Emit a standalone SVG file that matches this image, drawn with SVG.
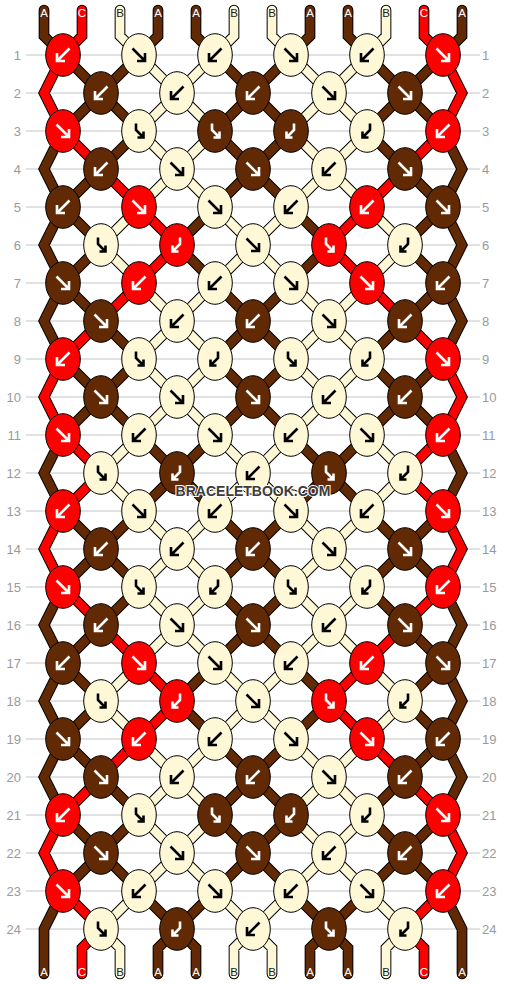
<svg xmlns="http://www.w3.org/2000/svg" width="506" height="984" viewBox="0 0 506 984">
<style>
.grid line{stroke:#c4c4c4;stroke-width:1}
.rl{font-family:"Liberation Sans",Arial,sans-serif;font-size:13px;fill:#9a9a9a}
.rl.l{text-anchor:end}
.o{fill:none;stroke:#000;stroke-width:10.7;stroke-linecap:round;stroke-linejoin:miter}
.sA,.sB,.sC{fill:none;stroke-width:8.7;stroke-linecap:round;stroke-linejoin:miter}
.sA{stroke:#612a05}.sB{stroke:#fff8d6}.sC{stroke:#ff0000}
.kA{fill:#612a05}.kB{fill:#fff8d6}.kC{fill:#ff0000}
ellipse{stroke:#000;stroke-width:1}
.w{stroke:#fff}.k{stroke:#000}
.lbl{font-family:"Liberation Sans",Arial,sans-serif;font-size:11.5px;text-anchor:middle}
.lw{fill:#fff}.lk{fill:#222}
.wm{font-family:"Liberation Sans",Arial,sans-serif;font-size:14px;font-weight:bold;text-anchor:middle;fill:#3c3c3c;stroke:#fff;stroke-width:2;paint-order:stroke}
</style>
<defs>
<path id="af" d="M-6.5-6.5L5.5 5.5M6-2V6H-2" fill="none" stroke-width="2.6"/>
<path id="ab" d="M6.5-6.5L-5.5 5.5M-6-2V6H2" fill="none" stroke-width="2.6"/>
<path id="abf" d="M-3-7.5V-1L4.5 6.5M4.5 0.5V6.5H-1.5" fill="none" stroke-width="2.6"/>
<path id="afb" d="M3-7.5V-1L-4.5 6.5M-4.5 0.5V6.5H1.5" fill="none" stroke-width="2.6"/>
<path id="pA" d="M44 10L44 36L63 55M158 10L158 36L139 55M196 10L196 36L215 55M310 10L310 36L291 55M348 10L348 36L367 55M462 10L462 36L443 55
M63 55l38 38M139 55l-38 38M215 55l38 38M291 55l-38 38M367 55l38 38M443 55l-38 38
M101 93l-38 38M101 93l38 38M253 93l-38 38M253 93l38 38M405 93l-38 38M405 93l38 38
M139 131l-38 38M215 131l38 38M291 131l-38 38M367 131l38 38
M101 169l-38 38M253 169l-38 38M253 169l38 38M405 169l38 38
M63 207l38 38M215 207l-38 38M291 207l38 38M443 207l-38 38
M101 245l-38 38M177 245l38 38M329 245l-38 38M405 245l38 38
M63 283l38 38M215 283l38 38M291 283l-38 38M443 283l-38 38
M101 321l38 38M253 321l-38 38M253 321l38 38M405 321l-38 38
M63 359l38 38M139 359l-38 38M215 359l38 38M291 359l-38 38M367 359l38 38M443 359l-38 38
M101 397l-38 38M101 397l38 38M253 397l-38 38M253 397l38 38M405 397l-38 38M405 397l38 38
M139 435l38 38M215 435l-38 38M291 435l38 38M367 435l-38 38
M177 473l-38 38M177 473l38 38M329 473l-38 38M329 473l38 38
M63 511l38 38M139 511l-38 38M215 511l38 38M291 511l-38 38M367 511l38 38M443 511l-38 38
M101 549l-38 38M101 549l38 38M253 549l-38 38M253 549l38 38M405 549l-38 38M405 549l38 38
M139 587l-38 38M215 587l38 38M291 587l-38 38M367 587l38 38
M101 625l-38 38M253 625l-38 38M253 625l38 38M405 625l38 38
M63 663l38 38M215 663l-38 38M291 663l38 38M443 663l-38 38
M101 701l-38 38M177 701l38 38M329 701l-38 38M405 701l38 38
M63 739l38 38M215 739l38 38M291 739l-38 38M443 739l-38 38
M101 777l38 38M253 777l-38 38M253 777l38 38M405 777l-38 38
M63 815l38 38M139 815l-38 38M215 815l38 38M291 815l-38 38M367 815l38 38M443 815l-38 38
M101 853l-38 38M101 853l38 38M253 853l-38 38M253 853l38 38M405 853l-38 38M405 853l38 38
M139 891l38 38M215 891l-38 38M291 891l38 38M367 891l-38 38
M63 131L44 169L63 207M443 131L462 169L443 207M63 207L44 245L63 283M443 207L462 245L443 283M63 283L44 321L63 359M443 283L462 321L443 359
M63 435L44 473L63 511M443 435L462 473L443 511M63 587L44 625L63 663M443 587L462 625L443 663M63 663L44 701L63 739M443 663L462 701L443 739
M63 739L44 777L63 815M443 739L462 777L443 815M63 891L44 929L44 974M443 891L462 929L462 974
M177 929L158 948L158 974M177 929L196 948L196 974M329 929L310 948L310 974M329 929L348 948L348 974"/>
<path id="pB" d="M120 10L120 36L139 55M234 10L234 36L215 55M272 10L272 36L291 55M386 10L386 36L367 55
M139 55l38 38M215 55l-38 38M291 55l38 38M367 55l-38 38
M177 93l-38 38M177 93l38 38M329 93l-38 38M329 93l38 38
M139 131l38 38M215 131l-38 38M291 131l38 38M367 131l-38 38
M177 169l-38 38M177 169l38 38M329 169l-38 38M329 169l38 38
M139 207l-38 38M215 207l38 38M291 207l-38 38M367 207l38 38
M101 245l38 38M253 245l-38 38M253 245l38 38M405 245l-38 38
M139 283l38 38M215 283l-38 38M291 283l38 38M367 283l-38 38
M177 321l-38 38M177 321l38 38M329 321l-38 38M329 321l38 38
M139 359l38 38M215 359l-38 38M291 359l38 38M367 359l-38 38
M177 397l-38 38M177 397l38 38M329 397l-38 38M329 397l38 38
M139 435l-38 38M215 435l38 38M291 435l-38 38M367 435l38 38
M101 473l38 38M253 473l-38 38M253 473l38 38M405 473l-38 38
M139 511l38 38M215 511l-38 38M291 511l38 38M367 511l-38 38
M177 549l-38 38M177 549l38 38M329 549l-38 38M329 549l38 38
M139 587l38 38M215 587l-38 38M291 587l38 38M367 587l-38 38
M177 625l-38 38M177 625l38 38M329 625l-38 38M329 625l38 38
M139 663l-38 38M215 663l38 38M291 663l-38 38M367 663l38 38
M101 701l38 38M253 701l-38 38M253 701l38 38M405 701l-38 38
M139 739l38 38M215 739l-38 38M291 739l38 38M367 739l-38 38
M177 777l-38 38M177 777l38 38M329 777l-38 38M329 777l38 38
M139 815l38 38M215 815l-38 38M291 815l38 38M367 815l-38 38
M177 853l-38 38M177 853l38 38M329 853l-38 38M329 853l38 38
M139 891l-38 38M215 891l38 38M291 891l-38 38M367 891l38 38
M101 929L120 948L120 974M253 929L234 948L234 974M253 929L272 948L272 974M405 929L386 948L386 974"/>
<path id="pC" d="M82 10L82 36L63 55M424 10L424 36L443 55
M63 55L44 93L63 131M443 55L462 93L443 131M63 359L44 397L63 435M443 359L462 397L443 435
M63 511L44 549L63 587M443 511L462 549L443 587M63 815L44 853L63 891M443 815L462 853L443 891
M63 131l38 38M443 131l-38 38
M101 169l38 38M405 169l-38 38
M139 207l38 38M367 207l-38 38
M177 245l-38 38M329 245l38 38
M139 283l-38 38M367 283l38 38
M101 321l-38 38M405 321l38 38
M63 435l38 38M443 435l-38 38
M101 473l-38 38M405 473l38 38
M63 587l38 38M443 587l-38 38
M101 625l38 38M405 625l-38 38
M139 663l38 38M367 663l-38 38
M177 701l-38 38M329 701l38 38
M139 739l-38 38M367 739l38 38
M101 777l-38 38M405 777l38 38
M63 891l38 38M443 891l-38 38
M101 929L82 948L82 974M405 929L424 948L424 974"/>
</defs>
<rect width="506" height="984" fill="#fff"/>
<g class="grid">
<line x1="26" y1="55" x2="480" y2="55"/><line x1="26" y1="93" x2="480" y2="93"/><line x1="26" y1="131" x2="480" y2="131"/><line x1="26" y1="169" x2="480" y2="169"/>
<line x1="26" y1="207" x2="480" y2="207"/><line x1="26" y1="245" x2="480" y2="245"/><line x1="26" y1="283" x2="480" y2="283"/><line x1="26" y1="321" x2="480" y2="321"/>
<line x1="26" y1="359" x2="480" y2="359"/><line x1="26" y1="397" x2="480" y2="397"/><line x1="26" y1="435" x2="480" y2="435"/><line x1="26" y1="473" x2="480" y2="473"/>
<line x1="26" y1="511" x2="480" y2="511"/><line x1="26" y1="549" x2="480" y2="549"/><line x1="26" y1="587" x2="480" y2="587"/><line x1="26" y1="625" x2="480" y2="625"/>
<line x1="26" y1="663" x2="480" y2="663"/><line x1="26" y1="701" x2="480" y2="701"/><line x1="26" y1="739" x2="480" y2="739"/><line x1="26" y1="777" x2="480" y2="777"/>
<line x1="26" y1="815" x2="480" y2="815"/><line x1="26" y1="853" x2="480" y2="853"/><line x1="26" y1="891" x2="480" y2="891"/><line x1="26" y1="929" x2="480" y2="929"/>
</g>
<g id="row-labels" class="rl">
<text class="rl l" x="21" y="59.5">1</text><text class="rl l" x="21" y="97.5">2</text><text class="rl l" x="21" y="135.5">3</text><text class="rl l" x="21" y="173.5">4</text>
<text class="rl l" x="21" y="211.5">5</text><text class="rl l" x="21" y="249.5">6</text><text class="rl l" x="21" y="287.5">7</text><text class="rl l" x="21" y="325.5">8</text>
<text class="rl l" x="21" y="363.5">9</text><text class="rl l" x="21" y="401.5">10</text><text class="rl l" x="21" y="439.5">11</text><text class="rl l" x="21" y="477.5">12</text>
<text class="rl l" x="21" y="515.5">13</text><text class="rl l" x="21" y="553.5">14</text><text class="rl l" x="21" y="591.5">15</text><text class="rl l" x="21" y="629.5">16</text>
<text class="rl l" x="21" y="667.5">17</text><text class="rl l" x="21" y="705.5">18</text><text class="rl l" x="21" y="743.5">19</text><text class="rl l" x="21" y="781.5">20</text>
<text class="rl l" x="21" y="819.5">21</text><text class="rl l" x="21" y="857.5">22</text><text class="rl l" x="21" y="895.5">23</text><text class="rl l" x="21" y="933.5">24</text>
<text x="482" y="59.5">1</text><text x="482" y="97.5">2</text><text x="482" y="135.5">3</text><text x="482" y="173.5">4</text>
<text x="482" y="211.5">5</text><text x="482" y="249.5">6</text><text x="482" y="287.5">7</text><text x="482" y="325.5">8</text>
<text x="482" y="363.5">9</text><text x="482" y="401.5">10</text><text x="482" y="439.5">11</text><text x="482" y="477.5">12</text>
<text x="482" y="515.5">13</text><text x="482" y="553.5">14</text><text x="482" y="591.5">15</text><text x="482" y="629.5">16</text>
<text x="482" y="667.5">17</text><text x="482" y="705.5">18</text><text x="482" y="743.5">19</text><text x="482" y="781.5">20</text>
<text x="482" y="819.5">21</text><text x="482" y="857.5">22</text><text x="482" y="895.5">23</text><text x="482" y="933.5">24</text>
</g>
<g id="connectors">
<use href="#pA" class="o"/><use href="#pB" class="o"/><use href="#pC" class="o"/>
<use href="#pA" class="sA"/><use href="#pB" class="sB"/><use href="#pC" class="sC"/>
</g>
<g id="string-labels" class="lbl">
<text class="lbl lw" x="44" y="16.7">A</text><text class="lbl lw" x="82" y="16.7">C</text><text class="lbl lk" x="120" y="16.7">B</text><text class="lbl lw" x="158" y="16.7">A</text>
<text class="lbl lw" x="196" y="16.7">A</text><text class="lbl lk" x="234" y="16.7">B</text><text class="lbl lk" x="272" y="16.7">B</text><text class="lbl lw" x="310" y="16.7">A</text>
<text class="lbl lw" x="348" y="16.7">A</text><text class="lbl lk" x="386" y="16.7">B</text><text class="lbl lw" x="424" y="16.7">C</text><text class="lbl lw" x="462" y="16.7">A</text>
<text class="lbl lw" x="44" y="976">A</text><text class="lbl lw" x="82" y="976">C</text><text class="lbl lk" x="120" y="976">B</text><text class="lbl lw" x="158" y="976">A</text>
<text class="lbl lw" x="196" y="976">A</text><text class="lbl lk" x="234" y="976">B</text><text class="lbl lk" x="272" y="976">B</text><text class="lbl lw" x="310" y="976">A</text>
<text class="lbl lw" x="348" y="976">A</text><text class="lbl lk" x="386" y="976">B</text><text class="lbl lw" x="424" y="976">C</text><text class="lbl lw" x="462" y="976">A</text>
</g>
<g id="knots">
<g id="k1-1"><ellipse class="kC" cx="63" cy="55" rx="17.3" ry="21.3"/><use href="#ab" x="63" y="55" class="w"/></g>
<g id="k1-2"><ellipse class="kB" cx="139" cy="55" rx="17.3" ry="21.3"/><use href="#af" x="139" y="55" class="k"/></g>
<g id="k1-3"><ellipse class="kB" cx="215" cy="55" rx="17.3" ry="21.3"/><use href="#ab" x="215" y="55" class="k"/></g>
<g id="k1-4"><ellipse class="kB" cx="291" cy="55" rx="17.3" ry="21.3"/><use href="#af" x="291" y="55" class="k"/></g>
<g id="k1-5"><ellipse class="kB" cx="367" cy="55" rx="17.3" ry="21.3"/><use href="#ab" x="367" y="55" class="k"/></g>
<g id="k1-6"><ellipse class="kC" cx="443" cy="55" rx="17.3" ry="21.3"/><use href="#af" x="443" y="55" class="w"/></g>
<g id="k2-1"><ellipse class="kA" cx="101" cy="93" rx="17.3" ry="21.3"/><use href="#ab" x="101" y="93" class="w"/></g>
<g id="k2-2"><ellipse class="kB" cx="177" cy="93" rx="17.3" ry="21.3"/><use href="#ab" x="177" y="93" class="k"/></g>
<g id="k2-3"><ellipse class="kA" cx="253" cy="93" rx="17.3" ry="21.3"/><use href="#ab" x="253" y="93" class="w"/></g>
<g id="k2-4"><ellipse class="kB" cx="329" cy="93" rx="17.3" ry="21.3"/><use href="#af" x="329" y="93" class="k"/></g>
<g id="k2-5"><ellipse class="kA" cx="405" cy="93" rx="17.3" ry="21.3"/><use href="#af" x="405" y="93" class="w"/></g>
<g id="k3-1"><ellipse class="kC" cx="63" cy="131" rx="17.3" ry="21.3"/><use href="#af" x="63" y="131" class="w"/></g>
<g id="k3-2"><ellipse class="kB" cx="139" cy="131" rx="17.3" ry="21.3"/><use href="#abf" x="139" y="131" class="k"/></g>
<g id="k3-3"><ellipse class="kA" cx="215" cy="131" rx="17.3" ry="21.3"/><use href="#abf" x="215" y="131" class="w"/></g>
<g id="k3-4"><ellipse class="kA" cx="291" cy="131" rx="17.3" ry="21.3"/><use href="#afb" x="291" y="131" class="w"/></g>
<g id="k3-5"><ellipse class="kB" cx="367" cy="131" rx="17.3" ry="21.3"/><use href="#afb" x="367" y="131" class="k"/></g>
<g id="k3-6"><ellipse class="kC" cx="443" cy="131" rx="17.3" ry="21.3"/><use href="#ab" x="443" y="131" class="w"/></g>
<g id="k4-1"><ellipse class="kA" cx="101" cy="169" rx="17.3" ry="21.3"/><use href="#ab" x="101" y="169" class="w"/></g>
<g id="k4-2"><ellipse class="kB" cx="177" cy="169" rx="17.3" ry="21.3"/><use href="#af" x="177" y="169" class="k"/></g>
<g id="k4-3"><ellipse class="kA" cx="253" cy="169" rx="17.3" ry="21.3"/><use href="#af" x="253" y="169" class="w"/></g>
<g id="k4-4"><ellipse class="kB" cx="329" cy="169" rx="17.3" ry="21.3"/><use href="#ab" x="329" y="169" class="k"/></g>
<g id="k4-5"><ellipse class="kA" cx="405" cy="169" rx="17.3" ry="21.3"/><use href="#af" x="405" y="169" class="w"/></g>
<g id="k5-1"><ellipse class="kA" cx="63" cy="207" rx="17.3" ry="21.3"/><use href="#ab" x="63" y="207" class="w"/></g>
<g id="k5-2"><ellipse class="kC" cx="139" cy="207" rx="17.3" ry="21.3"/><use href="#af" x="139" y="207" class="w"/></g>
<g id="k5-3"><ellipse class="kB" cx="215" cy="207" rx="17.3" ry="21.3"/><use href="#af" x="215" y="207" class="k"/></g>
<g id="k5-4"><ellipse class="kB" cx="291" cy="207" rx="17.3" ry="21.3"/><use href="#ab" x="291" y="207" class="k"/></g>
<g id="k5-5"><ellipse class="kC" cx="367" cy="207" rx="17.3" ry="21.3"/><use href="#ab" x="367" y="207" class="w"/></g>
<g id="k5-6"><ellipse class="kA" cx="443" cy="207" rx="17.3" ry="21.3"/><use href="#af" x="443" y="207" class="w"/></g>
<g id="k6-1"><ellipse class="kB" cx="101" cy="245" rx="17.3" ry="21.3"/><use href="#abf" x="101" y="245" class="k"/></g>
<g id="k6-2"><ellipse class="kC" cx="177" cy="245" rx="17.3" ry="21.3"/><use href="#afb" x="177" y="245" class="w"/></g>
<g id="k6-3"><ellipse class="kB" cx="253" cy="245" rx="17.3" ry="21.3"/><use href="#af" x="253" y="245" class="k"/></g>
<g id="k6-4"><ellipse class="kC" cx="329" cy="245" rx="17.3" ry="21.3"/><use href="#abf" x="329" y="245" class="w"/></g>
<g id="k6-5"><ellipse class="kB" cx="405" cy="245" rx="17.3" ry="21.3"/><use href="#afb" x="405" y="245" class="k"/></g>
<g id="k7-1"><ellipse class="kA" cx="63" cy="283" rx="17.3" ry="21.3"/><use href="#af" x="63" y="283" class="w"/></g>
<g id="k7-2"><ellipse class="kC" cx="139" cy="283" rx="17.3" ry="21.3"/><use href="#ab" x="139" y="283" class="w"/></g>
<g id="k7-3"><ellipse class="kB" cx="215" cy="283" rx="17.3" ry="21.3"/><use href="#ab" x="215" y="283" class="k"/></g>
<g id="k7-4"><ellipse class="kB" cx="291" cy="283" rx="17.3" ry="21.3"/><use href="#af" x="291" y="283" class="k"/></g>
<g id="k7-5"><ellipse class="kC" cx="367" cy="283" rx="17.3" ry="21.3"/><use href="#af" x="367" y="283" class="w"/></g>
<g id="k7-6"><ellipse class="kA" cx="443" cy="283" rx="17.3" ry="21.3"/><use href="#ab" x="443" y="283" class="w"/></g>
<g id="k8-1"><ellipse class="kA" cx="101" cy="321" rx="17.3" ry="21.3"/><use href="#af" x="101" y="321" class="w"/></g>
<g id="k8-2"><ellipse class="kB" cx="177" cy="321" rx="17.3" ry="21.3"/><use href="#ab" x="177" y="321" class="k"/></g>
<g id="k8-3"><ellipse class="kA" cx="253" cy="321" rx="17.3" ry="21.3"/><use href="#ab" x="253" y="321" class="w"/></g>
<g id="k8-4"><ellipse class="kB" cx="329" cy="321" rx="17.3" ry="21.3"/><use href="#af" x="329" y="321" class="k"/></g>
<g id="k8-5"><ellipse class="kA" cx="405" cy="321" rx="17.3" ry="21.3"/><use href="#ab" x="405" y="321" class="w"/></g>
<g id="k9-1"><ellipse class="kC" cx="63" cy="359" rx="17.3" ry="21.3"/><use href="#ab" x="63" y="359" class="w"/></g>
<g id="k9-2"><ellipse class="kB" cx="139" cy="359" rx="17.3" ry="21.3"/><use href="#abf" x="139" y="359" class="k"/></g>
<g id="k9-3"><ellipse class="kB" cx="215" cy="359" rx="17.3" ry="21.3"/><use href="#afb" x="215" y="359" class="k"/></g>
<g id="k9-4"><ellipse class="kB" cx="291" cy="359" rx="17.3" ry="21.3"/><use href="#abf" x="291" y="359" class="k"/></g>
<g id="k9-5"><ellipse class="kB" cx="367" cy="359" rx="17.3" ry="21.3"/><use href="#afb" x="367" y="359" class="k"/></g>
<g id="k9-6"><ellipse class="kC" cx="443" cy="359" rx="17.3" ry="21.3"/><use href="#af" x="443" y="359" class="w"/></g>
<g id="k10-1"><ellipse class="kA" cx="101" cy="397" rx="17.3" ry="21.3"/><use href="#af" x="101" y="397" class="w"/></g>
<g id="k10-2"><ellipse class="kB" cx="177" cy="397" rx="17.3" ry="21.3"/><use href="#af" x="177" y="397" class="k"/></g>
<g id="k10-3"><ellipse class="kA" cx="253" cy="397" rx="17.3" ry="21.3"/><use href="#af" x="253" y="397" class="w"/></g>
<g id="k10-4"><ellipse class="kB" cx="329" cy="397" rx="17.3" ry="21.3"/><use href="#ab" x="329" y="397" class="k"/></g>
<g id="k10-5"><ellipse class="kA" cx="405" cy="397" rx="17.3" ry="21.3"/><use href="#ab" x="405" y="397" class="w"/></g>
<g id="k11-1"><ellipse class="kC" cx="63" cy="435" rx="17.3" ry="21.3"/><use href="#af" x="63" y="435" class="w"/></g>
<g id="k11-2"><ellipse class="kB" cx="139" cy="435" rx="17.3" ry="21.3"/><use href="#ab" x="139" y="435" class="k"/></g>
<g id="k11-3"><ellipse class="kB" cx="215" cy="435" rx="17.3" ry="21.3"/><use href="#af" x="215" y="435" class="k"/></g>
<g id="k11-4"><ellipse class="kB" cx="291" cy="435" rx="17.3" ry="21.3"/><use href="#ab" x="291" y="435" class="k"/></g>
<g id="k11-5"><ellipse class="kB" cx="367" cy="435" rx="17.3" ry="21.3"/><use href="#af" x="367" y="435" class="k"/></g>
<g id="k11-6"><ellipse class="kC" cx="443" cy="435" rx="17.3" ry="21.3"/><use href="#ab" x="443" y="435" class="w"/></g>
<g id="k12-1"><ellipse class="kB" cx="101" cy="473" rx="17.3" ry="21.3"/><use href="#abf" x="101" y="473" class="k"/></g>
<g id="k12-2"><ellipse class="kA" cx="177" cy="473" rx="17.3" ry="21.3"/><use href="#afb" x="177" y="473" class="w"/></g>
<g id="k12-3"><ellipse class="kB" cx="253" cy="473" rx="17.3" ry="21.3"/><use href="#ab" x="253" y="473" class="k"/></g>
<g id="k12-4"><ellipse class="kA" cx="329" cy="473" rx="17.3" ry="21.3"/><use href="#abf" x="329" y="473" class="w"/></g>
<g id="k12-5"><ellipse class="kB" cx="405" cy="473" rx="17.3" ry="21.3"/><use href="#afb" x="405" y="473" class="k"/></g>
<g id="k13-1"><ellipse class="kC" cx="63" cy="511" rx="17.3" ry="21.3"/><use href="#ab" x="63" y="511" class="w"/></g>
<g id="k13-2"><ellipse class="kB" cx="139" cy="511" rx="17.3" ry="21.3"/><use href="#af" x="139" y="511" class="k"/></g>
<g id="k13-3"><ellipse class="kB" cx="215" cy="511" rx="17.3" ry="21.3"/><use href="#ab" x="215" y="511" class="k"/></g>
<g id="k13-4"><ellipse class="kB" cx="291" cy="511" rx="17.3" ry="21.3"/><use href="#af" x="291" y="511" class="k"/></g>
<g id="k13-5"><ellipse class="kB" cx="367" cy="511" rx="17.3" ry="21.3"/><use href="#ab" x="367" y="511" class="k"/></g>
<g id="k13-6"><ellipse class="kC" cx="443" cy="511" rx="17.3" ry="21.3"/><use href="#af" x="443" y="511" class="w"/></g>
<g id="k14-1"><ellipse class="kA" cx="101" cy="549" rx="17.3" ry="21.3"/><use href="#ab" x="101" y="549" class="w"/></g>
<g id="k14-2"><ellipse class="kB" cx="177" cy="549" rx="17.3" ry="21.3"/><use href="#ab" x="177" y="549" class="k"/></g>
<g id="k14-3"><ellipse class="kA" cx="253" cy="549" rx="17.3" ry="21.3"/><use href="#ab" x="253" y="549" class="w"/></g>
<g id="k14-4"><ellipse class="kB" cx="329" cy="549" rx="17.3" ry="21.3"/><use href="#af" x="329" y="549" class="k"/></g>
<g id="k14-5"><ellipse class="kA" cx="405" cy="549" rx="17.3" ry="21.3"/><use href="#af" x="405" y="549" class="w"/></g>
<g id="k15-1"><ellipse class="kC" cx="63" cy="587" rx="17.3" ry="21.3"/><use href="#af" x="63" y="587" class="w"/></g>
<g id="k15-2"><ellipse class="kB" cx="139" cy="587" rx="17.3" ry="21.3"/><use href="#abf" x="139" y="587" class="k"/></g>
<g id="k15-3"><ellipse class="kB" cx="215" cy="587" rx="17.3" ry="21.3"/><use href="#afb" x="215" y="587" class="k"/></g>
<g id="k15-4"><ellipse class="kB" cx="291" cy="587" rx="17.3" ry="21.3"/><use href="#abf" x="291" y="587" class="k"/></g>
<g id="k15-5"><ellipse class="kB" cx="367" cy="587" rx="17.3" ry="21.3"/><use href="#afb" x="367" y="587" class="k"/></g>
<g id="k15-6"><ellipse class="kC" cx="443" cy="587" rx="17.3" ry="21.3"/><use href="#ab" x="443" y="587" class="w"/></g>
<g id="k16-1"><ellipse class="kA" cx="101" cy="625" rx="17.3" ry="21.3"/><use href="#ab" x="101" y="625" class="w"/></g>
<g id="k16-2"><ellipse class="kB" cx="177" cy="625" rx="17.3" ry="21.3"/><use href="#af" x="177" y="625" class="k"/></g>
<g id="k16-3"><ellipse class="kA" cx="253" cy="625" rx="17.3" ry="21.3"/><use href="#af" x="253" y="625" class="w"/></g>
<g id="k16-4"><ellipse class="kB" cx="329" cy="625" rx="17.3" ry="21.3"/><use href="#ab" x="329" y="625" class="k"/></g>
<g id="k16-5"><ellipse class="kA" cx="405" cy="625" rx="17.3" ry="21.3"/><use href="#af" x="405" y="625" class="w"/></g>
<g id="k17-1"><ellipse class="kA" cx="63" cy="663" rx="17.3" ry="21.3"/><use href="#ab" x="63" y="663" class="w"/></g>
<g id="k17-2"><ellipse class="kC" cx="139" cy="663" rx="17.3" ry="21.3"/><use href="#af" x="139" y="663" class="w"/></g>
<g id="k17-3"><ellipse class="kB" cx="215" cy="663" rx="17.3" ry="21.3"/><use href="#af" x="215" y="663" class="k"/></g>
<g id="k17-4"><ellipse class="kB" cx="291" cy="663" rx="17.3" ry="21.3"/><use href="#ab" x="291" y="663" class="k"/></g>
<g id="k17-5"><ellipse class="kC" cx="367" cy="663" rx="17.3" ry="21.3"/><use href="#ab" x="367" y="663" class="w"/></g>
<g id="k17-6"><ellipse class="kA" cx="443" cy="663" rx="17.3" ry="21.3"/><use href="#af" x="443" y="663" class="w"/></g>
<g id="k18-1"><ellipse class="kB" cx="101" cy="701" rx="17.3" ry="21.3"/><use href="#abf" x="101" y="701" class="k"/></g>
<g id="k18-2"><ellipse class="kC" cx="177" cy="701" rx="17.3" ry="21.3"/><use href="#afb" x="177" y="701" class="w"/></g>
<g id="k18-3"><ellipse class="kB" cx="253" cy="701" rx="17.3" ry="21.3"/><use href="#af" x="253" y="701" class="k"/></g>
<g id="k18-4"><ellipse class="kC" cx="329" cy="701" rx="17.3" ry="21.3"/><use href="#abf" x="329" y="701" class="w"/></g>
<g id="k18-5"><ellipse class="kB" cx="405" cy="701" rx="17.3" ry="21.3"/><use href="#afb" x="405" y="701" class="k"/></g>
<g id="k19-1"><ellipse class="kA" cx="63" cy="739" rx="17.3" ry="21.3"/><use href="#af" x="63" y="739" class="w"/></g>
<g id="k19-2"><ellipse class="kC" cx="139" cy="739" rx="17.3" ry="21.3"/><use href="#ab" x="139" y="739" class="w"/></g>
<g id="k19-3"><ellipse class="kB" cx="215" cy="739" rx="17.3" ry="21.3"/><use href="#ab" x="215" y="739" class="k"/></g>
<g id="k19-4"><ellipse class="kB" cx="291" cy="739" rx="17.3" ry="21.3"/><use href="#af" x="291" y="739" class="k"/></g>
<g id="k19-5"><ellipse class="kC" cx="367" cy="739" rx="17.3" ry="21.3"/><use href="#af" x="367" y="739" class="w"/></g>
<g id="k19-6"><ellipse class="kA" cx="443" cy="739" rx="17.3" ry="21.3"/><use href="#ab" x="443" y="739" class="w"/></g>
<g id="k20-1"><ellipse class="kA" cx="101" cy="777" rx="17.3" ry="21.3"/><use href="#af" x="101" y="777" class="w"/></g>
<g id="k20-2"><ellipse class="kB" cx="177" cy="777" rx="17.3" ry="21.3"/><use href="#ab" x="177" y="777" class="k"/></g>
<g id="k20-3"><ellipse class="kA" cx="253" cy="777" rx="17.3" ry="21.3"/><use href="#ab" x="253" y="777" class="w"/></g>
<g id="k20-4"><ellipse class="kB" cx="329" cy="777" rx="17.3" ry="21.3"/><use href="#af" x="329" y="777" class="k"/></g>
<g id="k20-5"><ellipse class="kA" cx="405" cy="777" rx="17.3" ry="21.3"/><use href="#ab" x="405" y="777" class="w"/></g>
<g id="k21-1"><ellipse class="kC" cx="63" cy="815" rx="17.3" ry="21.3"/><use href="#ab" x="63" y="815" class="w"/></g>
<g id="k21-2"><ellipse class="kB" cx="139" cy="815" rx="17.3" ry="21.3"/><use href="#abf" x="139" y="815" class="k"/></g>
<g id="k21-3"><ellipse class="kA" cx="215" cy="815" rx="17.3" ry="21.3"/><use href="#abf" x="215" y="815" class="w"/></g>
<g id="k21-4"><ellipse class="kA" cx="291" cy="815" rx="17.3" ry="21.3"/><use href="#afb" x="291" y="815" class="w"/></g>
<g id="k21-5"><ellipse class="kB" cx="367" cy="815" rx="17.3" ry="21.3"/><use href="#afb" x="367" y="815" class="k"/></g>
<g id="k21-6"><ellipse class="kC" cx="443" cy="815" rx="17.3" ry="21.3"/><use href="#af" x="443" y="815" class="w"/></g>
<g id="k22-1"><ellipse class="kA" cx="101" cy="853" rx="17.3" ry="21.3"/><use href="#af" x="101" y="853" class="w"/></g>
<g id="k22-2"><ellipse class="kB" cx="177" cy="853" rx="17.3" ry="21.3"/><use href="#af" x="177" y="853" class="k"/></g>
<g id="k22-3"><ellipse class="kA" cx="253" cy="853" rx="17.3" ry="21.3"/><use href="#af" x="253" y="853" class="w"/></g>
<g id="k22-4"><ellipse class="kB" cx="329" cy="853" rx="17.3" ry="21.3"/><use href="#ab" x="329" y="853" class="k"/></g>
<g id="k22-5"><ellipse class="kA" cx="405" cy="853" rx="17.3" ry="21.3"/><use href="#ab" x="405" y="853" class="w"/></g>
<g id="k23-1"><ellipse class="kC" cx="63" cy="891" rx="17.3" ry="21.3"/><use href="#af" x="63" y="891" class="w"/></g>
<g id="k23-2"><ellipse class="kB" cx="139" cy="891" rx="17.3" ry="21.3"/><use href="#ab" x="139" y="891" class="k"/></g>
<g id="k23-3"><ellipse class="kB" cx="215" cy="891" rx="17.3" ry="21.3"/><use href="#af" x="215" y="891" class="k"/></g>
<g id="k23-4"><ellipse class="kB" cx="291" cy="891" rx="17.3" ry="21.3"/><use href="#ab" x="291" y="891" class="k"/></g>
<g id="k23-5"><ellipse class="kB" cx="367" cy="891" rx="17.3" ry="21.3"/><use href="#af" x="367" y="891" class="k"/></g>
<g id="k23-6"><ellipse class="kC" cx="443" cy="891" rx="17.3" ry="21.3"/><use href="#ab" x="443" y="891" class="w"/></g>
<g id="k24-1"><ellipse class="kB" cx="101" cy="929" rx="17.3" ry="21.3"/><use href="#abf" x="101" y="929" class="k"/></g>
<g id="k24-2"><ellipse class="kA" cx="177" cy="929" rx="17.3" ry="21.3"/><use href="#afb" x="177" y="929" class="w"/></g>
<g id="k24-3"><ellipse class="kB" cx="253" cy="929" rx="17.3" ry="21.3"/><use href="#ab" x="253" y="929" class="k"/></g>
<g id="k24-4"><ellipse class="kA" cx="329" cy="929" rx="17.3" ry="21.3"/><use href="#abf" x="329" y="929" class="w"/></g>
<g id="k24-5"><ellipse class="kB" cx="405" cy="929" rx="17.3" ry="21.3"/><use href="#afb" x="405" y="929" class="k"/></g>
</g>
<text id="watermark" class="wm" x="253" y="496">BRACELETBOOK.COM</text>
</svg>
